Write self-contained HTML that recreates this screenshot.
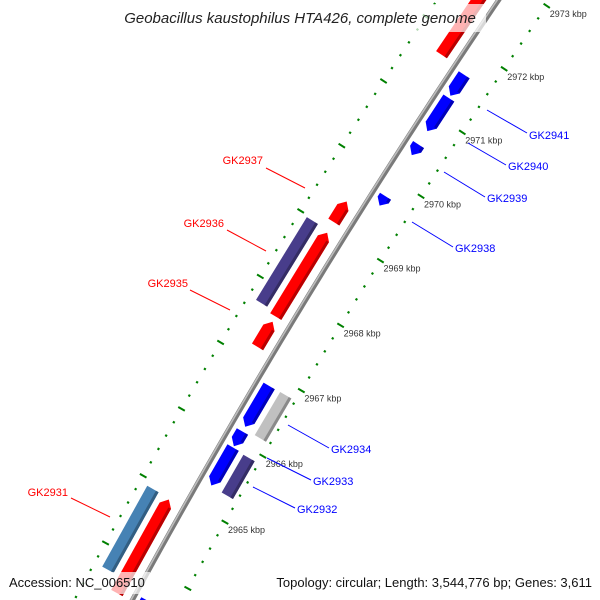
<!DOCTYPE html>
<html><head><meta charset="utf-8"><style>
html,body{margin:0;padding:0;background:#fff;width:600px;height:600px;overflow:hidden;}
svg{display:block;font-family:"Liberation Sans","DejaVu Sans",sans-serif;overflow:hidden;}
</style></head><body>
<svg id="map" width="600" height="600" viewBox="0 0 600 600">
<g id="bb"></g>
<g id="ticks"></g>
<g id="feats"></g>
<g id="labels">
 <text x="263" y="164" fill="#f00" font-size="11" text-anchor="end">GK2937</text>
 <line x1="266" y1="168" x2="305" y2="188" stroke="#f00" stroke-width="1"/>
 <text x="224" y="227" fill="#f00" font-size="11" text-anchor="end">GK2936</text>
 <line x1="227" y1="230" x2="266" y2="251" stroke="#f00" stroke-width="1"/>
 <text x="188" y="287" fill="#f00" font-size="11" text-anchor="end">GK2935</text>
 <line x1="190" y1="290" x2="230" y2="310" stroke="#f00" stroke-width="1"/>
 <text x="68" y="496" fill="#f00" font-size="11" text-anchor="end">GK2931</text>
 <line x1="71" y1="498" x2="110" y2="517" stroke="#f00" stroke-width="1"/>
 <text x="529" y="139" fill="#00f" font-size="11">GK2941</text>
 <line x1="487" y1="110" x2="527" y2="133" stroke="#00f" stroke-width="1"/>
 <text x="508" y="170" fill="#00f" font-size="11">GK2940</text>
 <line x1="468" y1="143" x2="506" y2="165" stroke="#00f" stroke-width="1"/>
 <text x="487" y="202" fill="#00f" font-size="11">GK2939</text>
 <line x1="444" y1="172" x2="485" y2="197" stroke="#00f" stroke-width="1"/>
 <text x="455" y="252" fill="#00f" font-size="11">GK2938</text>
 <line x1="412" y1="222" x2="453" y2="247" stroke="#00f" stroke-width="1"/>
 <text x="331" y="453" fill="#00f" font-size="11">GK2934</text>
 <line x1="288" y1="425" x2="329" y2="448" stroke="#00f" stroke-width="1"/>
 <text x="313" y="485" fill="#00f" font-size="11">GK2933</text>
 <line x1="267" y1="458" x2="311" y2="480" stroke="#00f" stroke-width="1"/>
 <text x="297" y="513" fill="#00f" font-size="11">GK2932</text>
 <line x1="253" y1="487" x2="295" y2="508" stroke="#00f" stroke-width="1"/>
</g>
<rect x="116" y="4" width="370" height="28" fill="#fff" fill-opacity="0.7"/>
<text x="300" y="23" text-anchor="middle" font-size="15" font-style="italic" fill="#222">Geobacillus kaustophilus HTA426, complete genome</text>
<rect x="4" y="572" width="146" height="22" fill="#fff" fill-opacity="0.7"/>
<text x="9" y="587" font-size="13" fill="#111">Accession: NC_006510</text>
<rect x="256" y="572" width="341" height="22" fill="#fff" fill-opacity="0.7"/>
<text x="592" y="587" font-size="13" fill="#111" text-anchor="end">Topology: circular; Length: 3,544,776 bp; Genes: 3,611</text>
</svg>
<script>
const geneStarts = [2971.316, 2970.763, 2970.388, 2969.605, 2966.216, 2965.921, 2965.329, 2962.71, 2966.184, 2965.316, 2971.70, 2969.105, 2967.658, 2967.197, 2963.5, 2967.711, 2963.71];
const geneEnds   = [2971.645, 2971.280, 2970.553, 2969.750, 2966.836, 2966.145, 2965.901, 2963.605, 2966.842, 2965.888, 2973.5, 2969.421, 2968.941, 2967.579, 2964.895, 2968.974, 2964.912];
const geneStrands = [-1,-1,-1,-1,-1,-1,-1,-1, 0,0, 1,1,1,1,1, 0,0];
const geneRings = [-13,-13,-13,-13,-13,-13,-13,-13, -32,-32, 17,17,17,17,17, 36,36];
const geneColors = ["#0000ff","#0000ff","#0000ff","#0000ff","#0000ff","#0000ff","#0000ff","#0000ff","#c0c0c0","#483d8b","#ff0000","#ff0000","#ff0000","#ff0000","#ff0000","#483d8b","#4682b4"];
const geneNames = ["gk2941","gk2940","gk2939","gk2938","gk2934","gk2933","gk2932","gk2930","gk2934-hit","gk2932-hit","gk2942","gk2937","gk2936","gk2935","gk2931","gk2936-hit","gk2931-hit"];
const tickStart = 2962.6, tickEnd = 2973.6;
const tickLabelKbp = [2965, 2966, 2967, 2968, 2969, 2970, 2971, 2972, 2973];

const NS = "http://www.w3.org/2000/svg";
const CX = 6586, CY = 4128, R0 = 7355;
const A0 = 213.72, DEG_PER_KBP = 0.596;
function pt(k, r){ const a=(A0+(k-2972)*DEG_PER_KBP)*Math.PI/180; return [CX+r*Math.cos(a), CY+r*Math.sin(a)]; }
function ps(arr){ return arr.map(p=>p[0].toFixed(2)+","+p[1].toFixed(2)).join(" "); }
function mk(tag, attrs, parent){ const e=document.createElementNS(NS,tag); for(const k in attrs) e.setAttribute(k, attrs[k]); parent.appendChild(e); return e; }

const bb = document.getElementById("bb");
function arcPts(r){ const a=[]; for(let k=tickStart;k<=tickEnd+1e-9;k+=0.1) a.push(pt(k,r)); return a; }
const b1 = mk("polyline",{points:ps(arcPts(R0)),fill:"none",stroke:"#7a7a7a","stroke-width":5},bb);


const b2 = mk("polyline",{points:ps(arcPts(R0+1.2)),fill:"none",stroke:"#bdbdbd","stroke-width":1.6},bb);



const tg = document.getElementById("ticks");
[R0-43, R0+51].forEach((r, ri)=>{
  for(let i=0;i<=Math.round((tickEnd-tickStart)/0.2);i++){
    const k = tickStart + i*0.2;
    const major = Math.abs(k-Math.round(k))<1e-6;
    const h = major?3.8:1.1;
    const p1=pt(k,r-h), p2=pt(k,r+h);
    const ln = mk("line",{x1:p1[0],y1:p1[1],x2:p2[0],y2:p2[1],stroke:"#008000","stroke-width":major?2:2.2},tg);
    
    
  }
});
tickLabelKbp.forEach(k=>{
  const p = pt(k, R0-43);
  const t = mk("text",{x:(p[0]+3).toFixed(1),y:(p[1]+11).toFixed(1),"font-size":9,fill:"#333"},tg);
  t.textContent = k+" kbp";
  
  
});

const fg = document.getElementById("feats");
function shade(c, f){ const n=parseInt(c.slice(1),16); let r=n>>16,g=(n>>8)&255,b=n&255; r=Math.round(r*f);g=Math.round(g*f);b=Math.round(b*f); return "rgb("+r+","+g+","+b+")"; }
const T = 13, AL = 7/76;
geneStarts.forEach((k1,i)=>{
  const k2 = geneEnds[i], r = geneRings[i], s = geneStrands[i], col = geneColors[i];
  const ri = r - T/2, ro = r + T/2;
  let poly, strip;
  const al = Math.min(AL, (k2-k1)*0.6);
  if(s===1){
    const kb = k2-al;
    poly=[pt(k1,R0+ri),pt(kb,R0+ri),pt(k2,R0+r),pt(kb,R0+ro),pt(k1,R0+ro)];
    strip=[pt(k1,R0+ri),pt(kb,R0+ri),pt(kb,R0+ri+3),pt(k1,R0+ri+3)];
  } else if(s===-1){
    const kb = k1+al;
    poly=[pt(k1,R0+r),pt(kb,R0+ri),pt(k2,R0+ri),pt(k2,R0+ro),pt(kb,R0+ro)];
    strip=[pt(kb,R0+ri),pt(k2,R0+ri),pt(k2,R0+ri+3),pt(kb,R0+ri+3)];
  } else {
    poly=[pt(k1,R0+ri),pt(k2,R0+ri),pt(k2,R0+ro),pt(k1,R0+ro)];
    strip=[pt(k1,R0+ri),pt(k2,R0+ri),pt(k2,R0+ri+3),pt(k1,R0+ri+3)];
  }
  const g = mk("g",{},fg);
  
  
  const p = mk("polygon",{points:ps(poly),fill:col},g);
  
  
  const st = mk("polygon",{points:ps(strip),fill:shade(col,0.72)},g);
  
  
});
</script>
</body></html>
